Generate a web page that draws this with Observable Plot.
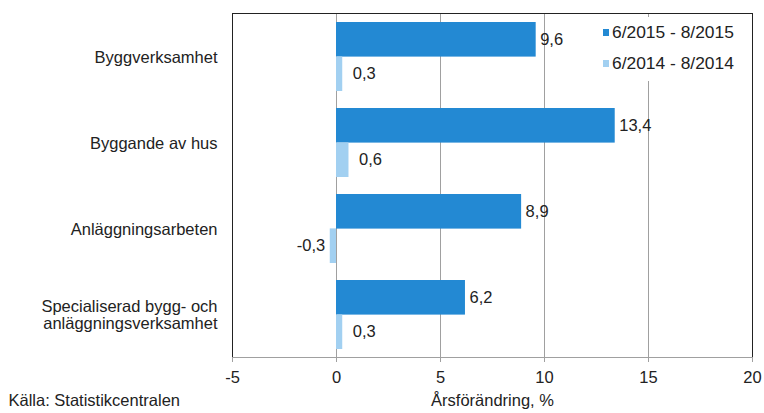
<!DOCTYPE html>
<html><head><meta charset="utf-8">
<script src="https://cdn.jsdelivr.net/npm/d3@7"></script>
<script src="https://cdn.jsdelivr.net/npm/@observablehq/plot@0.6"></script>
<style>
body{margin:0;background:#fff}
#wrap{position:relative;width:764px;height:413px;font-family:"Liberation Sans",Arial,sans-serif}
.legend{position:absolute;left:599px;top:17px;width:150px;height:64px;background:#fff;font-size:17.4px;color:#222}
.item{position:absolute;left:4px;height:20px;display:flex;align-items:center;white-space:nowrap}
.sw{width:6px;height:7px;margin-right:3px}
</style>
</head><body>
<div id="wrap"></div>
<script>
const categories = ["Byggverksamhet", "Byggande av hus", "Anläggningsarbeten", "Specialiserad bygg- och\nanläggningsverksamhet"];
const seriesNames = ["6/2015 - 8/2015", "6/2014 - 8/2014"];
const values2015 = [9.6, 13.4, 8.9, 6.2];
const values2014 = [0.3, 0.6, -0.3, 0.3];
const xTicks = [-5, 0, 5, 10, 15, 20];
const gridTicks = [0, 5, 10, 15];
const colors = ["#2389d3", "#a2d0f1"];
const xLabel = "Årsförändring, %";
const source = "Källa: Statistikcentralen";

const rows = categories.flatMap((c, i) => [
  {category: c, series: seriesNames[0], value: values2015[i]},
  {category: c, series: seriesNames[1], value: values2014[i]}
]);
const r0 = rows.filter(d => d.series === seriesNames[0]);
const r1 = rows.filter(d => d.series === seriesNames[1]);

const W = 764, H = 413, mt = 13, mb = 56, ml = 232, mr = 12;
const band = (H - mt - mb) * 0.8 / categories.length;
const half = band / 2;
const fmt = v => v.toFixed(1).replace(".", ",");

const chart = Plot.plot({
  width: W, height: H,
  marginTop: mt, marginBottom: mb, marginLeft: ml, marginRight: mr,
  style: {fontFamily: '"Liberation Sans", Arial, sans-serif', fontSize: "16.5px", color: "#222", background: "#fff"},
  x: {domain: [-5, 20], label: null},
  y: {domain: categories, paddingInner: 0.2, paddingOuter: 0.1, label: null},
  color: {domain: seriesNames, range: colors},
  marks: [
    Plot.gridX(gridTicks, {stroke: "#a0a0a0", strokeOpacity: 1}),
    Plot.barX(r0, {x: "value", y: "category", fill: "series", insetBottom: half}),
    Plot.barX(r1, {x: "value", y: "category", fill: "series", insetTop: half}),
    Plot.text(r0, {x: "value", y: "category", text: d => fmt(d.value), dy: -half / 2, dx: 4, textAnchor: "start", fill: "#222"}),
    Plot.text(r1.filter(d => d.value >= 0), {x: "value", y: "category", text: d => fmt(d.value), dy: half / 2, dx: 10, textAnchor: "start", fill: "#222"}),
    Plot.text(r1.filter(d => d.value < 0), {x: "value", y: "category", text: d => fmt(d.value), dy: half / 2, dx: -5, textAnchor: "end", fill: "#222"}),
    Plot.frame({stroke: "#222"}),
    Plot.frame({anchor: "bottom", stroke: "#a0a0a0"}),
    Plot.axisY({tickSize: 0, tickPadding: 15, fill: "#222", label: null, lineHeight: 1.05}),
    Plot.axisX({ticks: xTicks, tickSize: 5, tickPadding: 9, stroke: "#a0a0a0", fill: "#222", tickFormat: d => String(d), label: null}),
    Plot.text([xLabel], {frameAnchor: "bottom", dy: 48, fill: "#222"}),
    Plot.text([source], {frameAnchor: "bottom-left", textAnchor: "start", dx: -224, dy: 48, fill: "#222"})
  ]
});

const wrap = document.getElementById("wrap");
wrap.appendChild(chart);
const legend = document.createElement("div");
legend.className = "legend";
seriesNames.forEach((s, i) => {
  const item = document.createElement("div");
  item.className = "item";
  item.style.top = (5.5 + i * 31) + "px";
  const sw = document.createElement("span");
  sw.className = "sw";
  sw.style.background = colors[i];
  const t = document.createElement("span");
  t.textContent = s;
  item.appendChild(sw); item.appendChild(t);
  legend.appendChild(item);
});
wrap.appendChild(legend);
</script>
</body></html>
